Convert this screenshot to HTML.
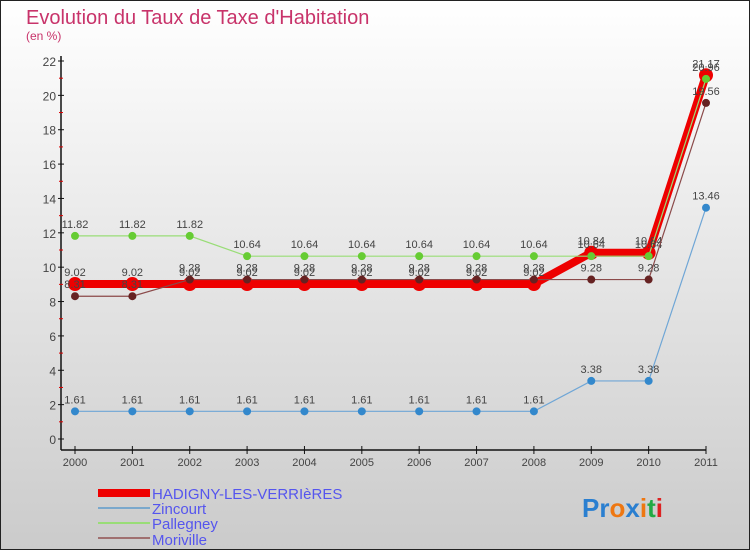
<!DOCTYPE html>
<html><head><meta charset="utf-8"><style>
body{margin:0;}
svg{display:block;font-family:"Liberation Sans",sans-serif;}
</style></head><body>
<svg width="750" height="550" xmlns="http://www.w3.org/2000/svg">
<defs><linearGradient id="bg" x1="0" y1="0" x2="0" y2="1"><stop offset="0" stop-color="#ffffff"/><stop offset="1" stop-color="#cbcbcb"/></linearGradient></defs>
<rect x="0.5" y="0.5" width="749" height="549" fill="url(#bg)" stroke="#222"/>
<text x="26" y="24" font-size="20" fill="#c8336a">Evolution du Taux de Taxe d'Habitation</text>
<text x="26" y="40" font-size="12" fill="#c8336a">(en %)</text>
<g id="axes"></g>
<g id="series"></g>
<g id="legend">
<rect x="98" y="489" width="52" height="8" fill="#ee0000"/>
<text x="152" y="499" font-size="15" fill="#5555ee">HADIGNY-LES-VERRIèRES</text>
<line x1="98" y1="508" x2="150" y2="508" stroke="#7aa8cc" stroke-width="2"/>
<text x="152" y="514" font-size="15" fill="#5555ee">Zincourt</text>
<line x1="98" y1="523" x2="150" y2="523" stroke="#99dd77" stroke-width="2"/>
<text x="152" y="529" font-size="15" fill="#5555ee">Pallegney</text>
<line x1="98" y1="538" x2="150" y2="538" stroke="#a07070" stroke-width="2"/>
<text x="152" y="545" font-size="15" fill="#5555ee">Moriville</text>
</g>
<text x="582" y="517" font-size="26" font-weight="bold"><tspan fill="#2a7fd0">Pr</tspan><tspan fill="#ee7711">o</tspan><tspan fill="#2a7fd0">x</tspan><tspan fill="#ee7711">i</tspan><tspan fill="#22aa44">t</tspan><tspan fill="#dd2222">i</tspan></text>
</svg>
<script>
const years=[2000,2001,2002,2003,2004,2005,2006,2007,2008,2009,2010,2011];
const yTicks=[0,2,4,6,8,10,12,14,16,18,20,22];
const hadigny=[9.02,9.02,9.02,9.02,9.02,9.02,9.02,9.02,9.02,10.84,10.84,21.17];
const zincourt=[1.61,1.61,1.61,1.61,1.61,1.61,1.61,1.61,1.61,3.38,3.38,13.46];
const pallegney=[11.82,11.82,11.82,10.64,10.64,10.64,10.64,10.64,10.64,10.64,10.64,20.96];
const moriville=[8.31,8.31,9.28,9.28,9.28,9.28,9.28,9.28,9.28,9.28,9.28,19.56];
const NS="http://www.w3.org/2000/svg";
function X(i){return 75+i*(706-75)/11;}
function Y(v){return 439-v*(439-61)/22;}
function mk(t,a,p){const e=document.createElementNS(NS,t);for(const k in a)e.setAttribute(k,a[k]);p.appendChild(e);return e;}
const ax=document.getElementById('axes');
const yl=mk('line',{x1:61,y1:56,x2:61,y2:450,stroke:'#111','stroke-width':1.5},ax);


const xl=mk('line',{x1:61,y1:450,x2:706,y2:450,stroke:'#111','stroke-width':1.5},ax);


yTicks.forEach(v=>{
 mk('line',{x1:58,y1:Y(v),x2:64,y2:Y(v),stroke:'#111'},ax);
 if(v<22)mk('line',{x1:59,y1:Y(v+1),x2:63,y2:Y(v+1),stroke:'#dd0000'},ax);
 const t=mk('text',{x:56,y:Y(v)+5,'font-size':12,fill:'#444','text-anchor':'end'},ax);t.textContent=v;
 
 
});
years.forEach((yr,i)=>{
 mk('line',{x1:X(i),y1:446,x2:X(i),y2:454,stroke:'#111'},ax);
 const t=mk('text',{x:X(i),y:466,'font-size':11,fill:'#444','text-anchor':'middle'},ax);t.textContent=yr;
 
 
});
const sg=document.getElementById('series');
function series(data,name,color,w,r,dot){
 const g=mk('g',{},sg);
 
 
 const pts=data.map((v,i)=>X(i)+','+Y(v)).join(' ');
 const pl=mk('polyline',{points:pts,fill:'none',stroke:color,'stroke-width':w},g);
 
 
 data.forEach((v,i)=>{
  const c=mk('circle',{cx:X(i),cy:Y(v),r:r,fill:dot},g);
  
  
  const t=mk('text',{x:X(i),y:Y(v)-8,'font-size':11,fill:'#444','text-anchor':'middle'},g);t.textContent=v;
  
  
 });
}
series(hadigny,'hadigny','#ee0000',8,7,'#ee0000');
series(zincourt,'zincourt','#6fa6d6',1.2,4,'#3388cc');
series(pallegney,'pallegney','#99dd77',1.2,4,'#66cc33');
series(moriville,'moriville','#8b4a4a',1.2,4,'#662222');
</script>
</body></html>
